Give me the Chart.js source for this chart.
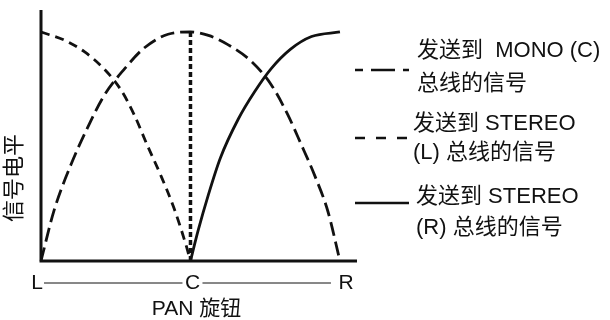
<!DOCTYPE html>
<html>
<head>
<meta charset="utf-8">
<script src="https://cdn.jsdelivr.net/npm/chart.js@4/dist/chart.umd.min.js"></script>
<style>
  body { margin: 0; background: #fff; }
  canvas { display: block; }
</style>
</head>
<body>
<canvas id="panChart" width="610" height="320"></canvas>
<script>
// pan position : 0 = L, 1 = C, 2 = R ; level : 0..1
const monoPan = [0, 0.087, 0.2, 0.31, 0.42, 0.56, 0.69, 0.85, 1, 1.12, 1.25, 1.41, 1.54, 1.65, 1.74, 1.83, 1.92, 2];
const monoLevel = [0, 0.22, 0.42, 0.58, 0.72, 0.84, 0.93, 0.99, 1, 0.985, 0.945, 0.87, 0.77, 0.64, 0.51, 0.375, 0.215, 0];

const stereoLPan = [0, 0.154, 0.29, 0.42, 0.535, 0.624, 0.71, 0.8, 0.89, 0.97, 1];
const stereoLLevel = [1, 0.965, 0.914, 0.84, 0.747, 0.638, 0.507, 0.376, 0.23, 0.07, 0];

const stereoRPan = [1, 1.05, 1.12, 1.2, 1.32, 1.43, 1.54, 1.67, 1.81, 2];
const stereoRLevel = [0, 0.13, 0.29, 0.45, 0.62, 0.74, 0.84, 0.925, 0.98, 1];

const centerPan = [1, 1];
const centerLevel = [0, 1];

const panLabels = ["L", "C", "R"];
const xTitle = "PAN 旋钮";
const yTitle = "信号电平";
const legendItems = [
  ["发送到  MONO (C)", "总线的信号"],
  ["发送到 STEREO", "(L) 总线的信号"],
  ["发送到 STEREO", "(R) 总线的信号"],
];

const toPoints = (xs, ys) => xs.map((x, i) => ({ x: x, y: ys[i] }));

const FONT = '"Liberation Sans", "Noto Sans CJK SC", sans-serif';

// axes, L-C-R line, titles and legend
const decor = {
  id: "decor",
  afterDraw(chart) {
    const ctx = chart.ctx;
    const area = chart.chartArea;
    const xs = chart.scales.x;
    ctx.save();
    ctx.strokeStyle = "#111";
    ctx.fillStyle = "#111";

    // axes
    ctx.lineWidth = 3;
    ctx.beginPath();
    ctx.moveTo(area.left, area.top);
    ctx.lineTo(area.left, area.bottom);
    ctx.lineTo(area.right, area.bottom);
    ctx.stroke();

    // L ---- C ---- R
    ctx.font = "21px " + FONT;
    ctx.textAlign = "center";
    ctx.textBaseline = "middle";
    const ly = 283;
    const px = panLabels.map((t, i) => xs.getPixelForValue(i));
    panLabels.forEach((t, i) => ctx.fillText(t, px[i] + (i === 0 ? -4 : i === 2 ? 6 : 2), ly));
    ctx.lineWidth = 1;
    ctx.beginPath();
    ctx.moveTo(px[0] + 3, ly);
    ctx.lineTo(px[1] - 8, ly);
    ctx.moveTo(px[1] + 12, ly);
    ctx.lineTo(px[2] - 9, ly);
    ctx.stroke();

    ctx.fillText(xTitle, px[1] + 6, 309);

    ctx.save();
    ctx.translate(15, 178);
    ctx.rotate(-Math.PI / 2);
    ctx.font = "22px " + FONT;
    ctx.fillText(yTitle, 0, 0);
    ctx.restore();

    // legend
    ctx.font = "22px " + FONT;
    ctx.textAlign = "left";
    const rows = [
      { x: 417, y1: 51, y2: 84, sy: 70, dash: [8, 8, 24, 8, 6, 100] },
      { x: 413, y1: 124, y2: 153, sy: 138, dash: [10, 11] },
      { x: 416, y1: 197, y2: 228, sy: 203, dash: [] },
    ];
    rows.forEach((r, i) => {
      ctx.fillText(legendItems[i][0], r.x, r.y1);
      ctx.fillText(legendItems[i][1], r.x, r.y2);
      ctx.lineWidth = 2.5;
      ctx.setLineDash(r.dash);
      ctx.beginPath();
      ctx.moveTo(355, r.sy);
      ctx.lineTo(409, r.sy);
      ctx.stroke();
      ctx.setLineDash([]);
    });
    ctx.restore();
  },
};

const lineStyle = {
  borderColor: "#111",
  borderWidth: 2.8,
  pointRadius: 0,
  fill: false,
  cubicInterpolationMode: "monotone",
};

new Chart(document.getElementById("panChart"), {
  type: "line",
  data: {
    datasets: [
      Object.assign({ label: "MONO", data: toPoints(monoPan, monoLevel), borderDash: [14, 6] }, lineStyle),
      Object.assign({ label: "STEREO L", data: toPoints(stereoLPan, stereoLLevel), borderDash: [9, 6] }, lineStyle),
      Object.assign({ label: "STEREO R", data: toPoints(stereoRPan, stereoRLevel) }, lineStyle),
      Object.assign({}, lineStyle, { label: "C", data: toPoints(centerPan, centerLevel), borderDash: [5, 3], borderWidth: 3.5, borderCapStyle: "butt", cubicInterpolationMode: "default", tension: 0 }),
    ],
  },
  options: {
    responsive: false,
    animation: false,
    clip: false,
    layout: { padding: { left: 41, top: 10, right: 253, bottom: 59 } },
    plugins: { legend: { display: false }, tooltip: { enabled: false } },
    scales: {
      x: { type: "linear", display: false, min: 0, max: 2.114 },
      y: { display: false, min: 0, max: 1.096 },
    },
  },
  plugins: [decor],
});
</script>
</body>
</html>
